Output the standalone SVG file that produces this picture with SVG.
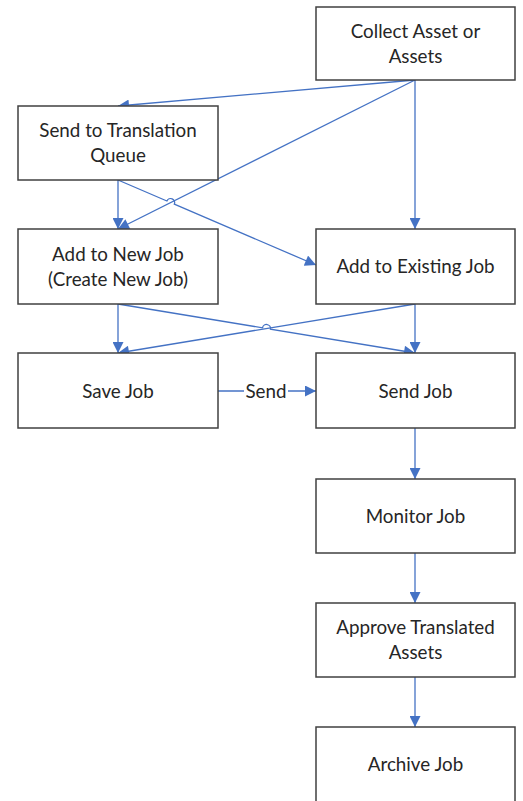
<svg xmlns="http://www.w3.org/2000/svg" width="523" height="801" viewBox="0 0 523 801">
<style>
.box{fill:#fff;stroke:#404040;stroke-width:1.5}
.t{font-family:Lato,"Liberation Sans",sans-serif;font-size:18.8px;fill:#262626;text-anchor:middle}
.c{fill:none;stroke:#4472C4;stroke-width:1.3}
</style>
<defs>
<marker id="a" viewBox="0 0 10 10" refX="10" refY="5" markerWidth="12" markerHeight="11" markerUnits="userSpaceOnUse" orient="auto">
<path d="M0,0 L10,5 L0,10 z" fill="#4472C4"/>
</marker>
</defs>
<rect width="523" height="801" fill="#fff"/>
<g id="connectors">
<path class="c" d="M415,80 L118,106" marker-end="url(#a)"/>
<path class="c" d="M415,80 L118,229" marker-end="url(#a)"/>
<path class="c" d="M415,80 L415,229" marker-end="url(#a)"/>
<path class="c" d="M118,180 L118,229" marker-end="url(#a)"/>
<path class="c" d="M118,180 L166.9,201 A4,4 0 0 1 174.3,204.2 L316,265" marker-end="url(#a)"/>
<path class="c" d="M118,304 L118,353" marker-end="url(#a)"/>
<path class="c" d="M415,304 L415,353" marker-end="url(#a)"/>
<path class="c" d="M415,304 L118,353" marker-end="url(#a)"/>
<path class="c" d="M118,304 L262.55,327.85 A4,4 0 0 1 270.45,329.15 L415,353" marker-end="url(#a)"/>
<path class="c" d="M218,391 L316,391" marker-end="url(#a)"/>
<rect x="244" y="380" width="44" height="22" fill="#fff"/>
<text class="t" x="266" y="397.5">Send</text>
<path class="c" d="M415,428 L415,479" marker-end="url(#a)"/>
<path class="c" d="M415,553 L415,603" marker-end="url(#a)"/>
<path class="c" d="M415,677 L415,727" marker-end="url(#a)"/>
</g>
<g id="collect"><rect class="box" x="316" y="7" width="199" height="73"/><text class="t" x="415.5" y="37.5">Collect Asset or</text><text class="t" x="415.5" y="62.5">Assets</text></g>
<g id="queue"><rect class="box" x="18" y="106" width="200" height="74"/><text class="t" x="118" y="136.5">Send to Translation</text><text class="t" x="118" y="161.5">Queue</text></g>
<g id="newjob"><rect class="box" x="18" y="229" width="200" height="75"/><text class="t" x="118" y="260.5">Add to New Job</text><text class="t" x="118" y="285.5">(Create New Job)</text></g>
<g id="existing"><rect class="box" x="316" y="229" width="199" height="75"/><text class="t" x="415.5" y="273">Add to Existing Job</text></g>
<g id="save"><rect class="box" x="18" y="353" width="200" height="75"/><text class="t" x="118" y="397.5">Save Job</text></g>
<g id="send"><rect class="box" x="316" y="353" width="199" height="75"/><text class="t" x="415.5" y="397.5">Send Job</text></g>
<g id="monitor"><rect class="box" x="316" y="479" width="199" height="74"/><text class="t" x="415.5" y="522.5">Monitor Job</text></g>
<g id="approve"><rect class="box" x="316" y="603" width="199" height="74"/><text class="t" x="415.5" y="633.5">Approve Translated</text><text class="t" x="415.5" y="658.5">Assets</text></g>
<g id="archive"><rect class="box" x="316" y="727" width="199" height="80"/><text class="t" x="415.5" y="770.5">Archive Job</text></g>
</svg>
